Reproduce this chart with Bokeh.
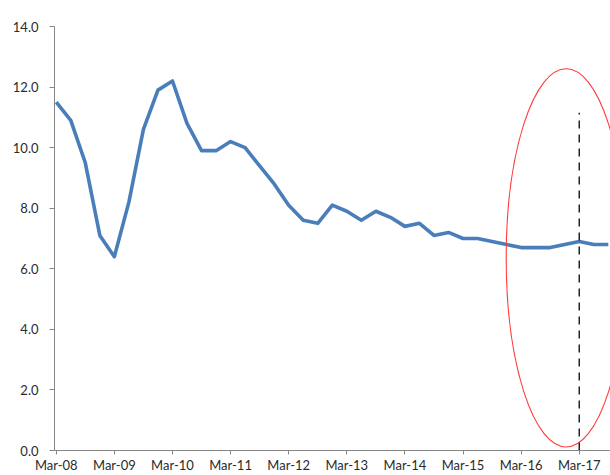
from bokeh.plotting import figure
from bokeh.models import FixedTicker, Range1d, NumeralTickFormatter
from bokeh.embed import file_html
from bokeh.resources import INLINE

# Quarterly series, starting in March 2008
values = [
    11.5, 10.9, 9.5, 7.1,
    6.4, 8.2, 10.6, 11.9,
    12.2, 10.8, 9.9, 9.9,
    10.2, 10.0, 9.4, 8.8,
    8.1, 7.6, 7.5, 8.1,
    7.9, 7.6, 7.9, 7.7,
    7.4, 7.5, 7.1, 7.2,
    7.0, 7.0, 6.9, 6.8,
    6.7, 6.7, 6.7, 6.8,
    6.9, 6.8, 6.8,
]
quarters = list(range(len(values)))

tick_labels = ["Mar-08", "Mar-09", "Mar-10", "Mar-11", "Mar-12",
               "Mar-13", "Mar-14", "Mar-15", "Mar-16", "Mar-17"]
tick_positions = [4 * i for i in range(len(tick_labels))]

y_ticks = [0, 2, 4, 6, 8, 10, 12, 14]

# highlight: vertical marker at Mar-17 and ellipse around the latest quarters
marker_quarter = 36
marker_top = 11.15
ellipse_x, ellipse_y = 35.1, 6.36
ellipse_w, ellipse_h = 8.26, 12.5

p = figure(width=610, height=475, output_backend="svg", toolbar_location=None,
           x_range=Range1d(-0.12, 38.15), y_range=Range1d(0, 14),
           min_border_left=54, min_border_right=0, min_border_top=26,
           min_border_bottom=0)
p.outline_line_color = None
p.background_fill_color = "white"
p.border_fill_color = "white"
p.xgrid.visible = False
p.ygrid.visible = False

p.line(quarters, values, line_color="#4a7ebb", line_width=3.6,
       line_join="round")

p.ellipse(x=[ellipse_x], y=[ellipse_y], width=[ellipse_w], height=[ellipse_h],
          fill_color=None, line_color="#ff3b3b", line_width=1.1)

p.segment(x0=[marker_quarter], y0=[0], x1=[marker_quarter], y1=[marker_top],
          line_color="#222222", line_width=1.5, line_dash="8 6")

font = "Lato"
for ax in (p.xaxis[0], p.yaxis[0]):
    ax.axis_line_color = "#868686"
    ax.major_tick_line_color = "#868686"
    ax.minor_tick_line_color = None
    ax.major_tick_in = 0
    ax.major_label_text_font = font
    ax.major_label_text_font_size = "13px"
    ax.major_label_text_color = "#2b2b2b"

p.yaxis.ticker = FixedTicker(ticks=y_ticks)
p.yaxis.formatter = NumeralTickFormatter(format="0.0")
p.yaxis.major_tick_out = 5
p.yaxis.major_label_standoff = 11

p.xaxis.ticker = FixedTicker(ticks=tick_positions)
p.xaxis.major_label_overrides = {pos: lab for pos, lab in zip(tick_positions, tick_labels)}
p.xaxis.major_tick_out = 4
p.xaxis.major_label_standoff = 2

open("out.html", "w").write(file_html(p, INLINE))
